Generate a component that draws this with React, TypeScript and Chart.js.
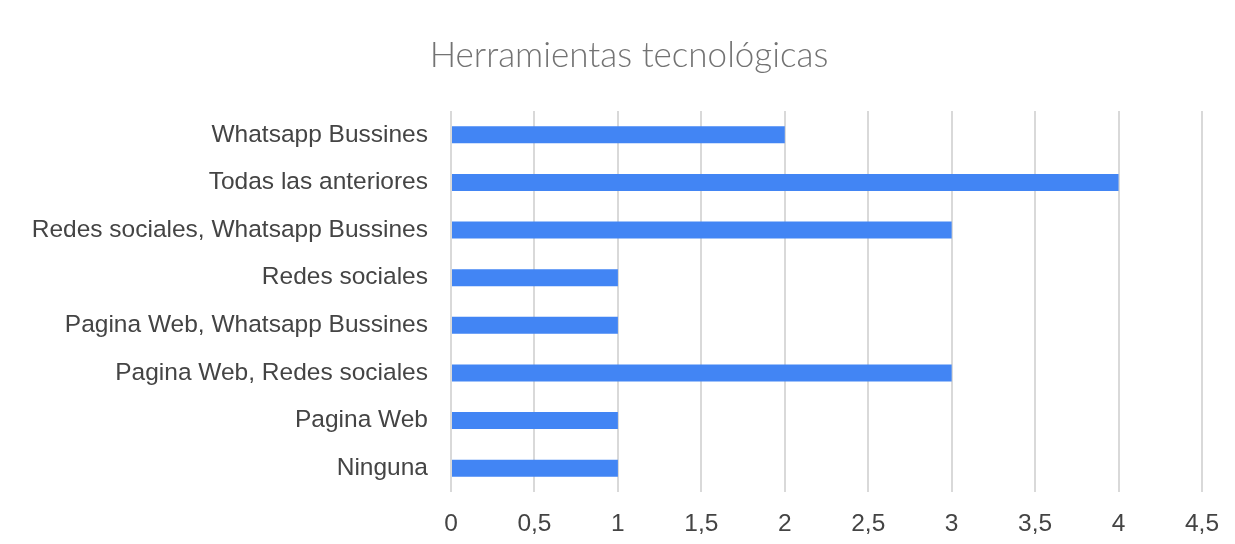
import React, { useEffect, useRef } from "react";
import { Chart, registerables } from "chart.js";

Chart.register(...registerables);

const categories = [
  "Whatsapp Bussines",
  "Todas las anteriores",
  "Redes sociales, Whatsapp Bussines",
  "Redes sociales",
  "Pagina Web, Whatsapp Bussines",
  "Pagina Web, Redes sociales",
  "Pagina Web",
  "Ninguna",
];
const values = [2, 4, 3, 1, 1, 3, 1, 1];
const titleText = "Herramientas tecnológicas";

const shiftTitle = {
  id: "shiftTitle",
  afterLayout(chart: any) {
    if (chart.titleBlock) {
      chart.titleBlock.left = 56;
      chart.titleBlock.right = 1202;
    }
  },
};

export default function App() {
  const ref = useRef<HTMLCanvasElement | null>(null);
  useEffect(() => {
    document.body.style.margin = "0";
    const ctx = ref.current!;
    const chart = new Chart(ctx, {
      type: "bar",
      data: {
        labels: categories,
        datasets: [
          {
            data: values,
            backgroundColor: "#4285f4",
            borderWidth: 0,
            barPercentage: 0.355,
            categoryPercentage: 1,
          },
        ],
      },
      plugins: [shiftTitle],
      options: {
        indexAxis: "y",
        animation: false,
        responsive: false,
        maintainAspectRatio: false,
        layout: { padding: { left: 0, right: 33, top: 0, bottom: 0 } },
        plugins: {
          legend: { display: false },
          tooltip: { enabled: false },
          title: {
            display: true,
            text: titleText,
            color: "#737373",
            font: { family: "Lato", size: 35, weight: "300", lineHeight: 1.2 },
            padding: { top: 35, bottom: 34 },
          },
        },
        scales: {
          x: {
            min: 0,
            max: 4.5,
            ticks: {
              stepSize: 0.5,
              color: "#444",
              font: { family: "'Liberation Sans', Arial, sans-serif", size: 24.5 },
              padding: 18,
              callback: (v: any) => String(v).replace(".", ","),
            },
            grid: { color: "#d9d9d9", lineWidth: 2, drawTicks: false },
            border: { display: false },
            afterFit: (s: any) => {
              s.height = 52;
              s.paddingRight = 0;
              s.paddingLeft = 0;
            },
          },
          y: {
            ticks: {
              color: "#444",
              font: { family: "'Liberation Sans', Arial, sans-serif", size: 24.5 },
              padding: 23,
            },
            grid: { display: false, drawTicks: false },
            border: { display: false },
            afterFit: (s: any) => {
              s.width = 451;
            },
          },
        },
      },
    });
    return () => chart.destroy();
  }, []);
  return (
    <div style={{ position: "absolute", left: 0, top: 0, width: 1235, height: 544 }}>
      <canvas ref={ref} width={1235} height={544} style={{ display: "block" }} />
    </div>
  );
}
